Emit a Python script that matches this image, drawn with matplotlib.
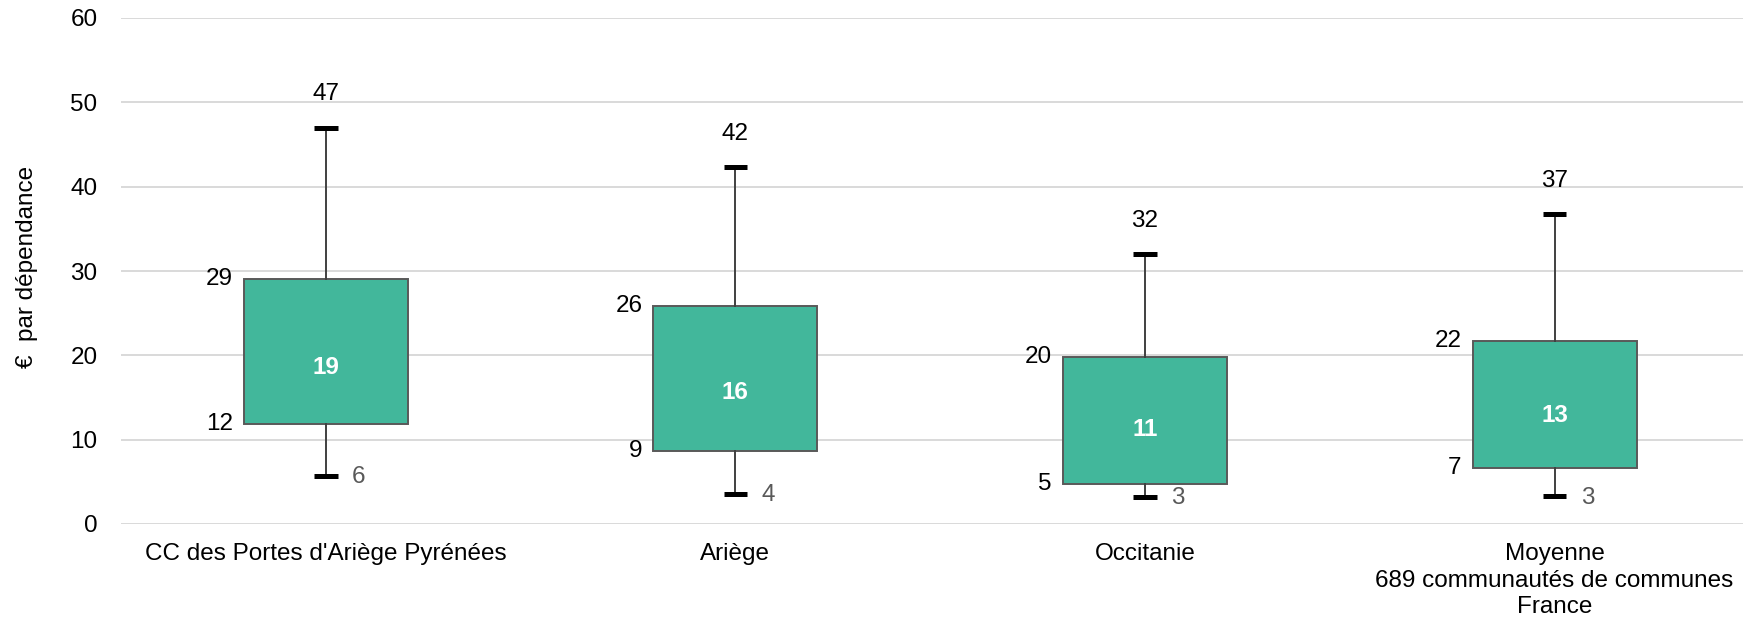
import matplotlib.pyplot as plt

plt.rcParams['font.family'] = ['Liberation Sans', 'DejaVu Sans']

# %% data
categories = ["CC des Portes d'Ariège Pyrénées", "Ariège", "Occitanie",
              "Moyenne\n689 communautés de communes\nFrance"]
q1_vals = [11.8, 8.7, 4.7, 6.6]
med_vals = [18.6, 15.6, 11.2, 12.9]
q3_vals = [29.0, 25.8, 19.8, 21.7]
min_vals = [5.7, 3.6, 3.2, 3.3]
max_vals = [47.0, 42.3, 32.0, 36.7]
q1_labels = ["12", "9", "5", "7"]
med_labels = ["19", "16", "11", "13"]
q3_labels = ["29", "26", "20", "22"]
min_labels = ["6", "4", "3", "3"]
max_labels = ["47", "42", "32", "37"]
y_ticks = [0, 10, 20, 30, 40, 50, 60]

box_color = "#42B79B"
fs = 17.5

fig = plt.figure(figsize=(17.43, 6.19), dpi=100)
ax = fig.add_axes([121 / 1743, 1 - 524 / 619, 1622 / 1743, 506 / 619])

stats = []
for i in range(len(categories)):
    stats.append({"med": med_vals[i], "q1": q1_vals[i], "q3": q3_vals[i],
                  "whislo": min_vals[i], "whishi": max_vals[i],
                  "label": categories[i]})

positions = list(range(len(categories)))
bw = 0.40
ax.bxp(stats, positions=positions, widths=bw, capwidths=0.058,
       showfliers=False, patch_artist=True,
       boxprops=dict(facecolor=box_color, edgecolor="#595959", linewidth=1.4),
       whiskerprops=dict(color="#404040", linewidth=1.4),
       capprops=dict(color="black", linewidth=3.6, solid_capstyle="butt"),
       medianprops=dict(linewidth=0))

for i, p in enumerate(positions):
    ax.annotate(max_labels[i], (p, max_vals[i]), xytext=(0, 24),
                textcoords="offset points", ha="center", va="center", fontsize=fs)
    ax.annotate(q3_labels[i], (p - bw / 2, q3_vals[i]), xytext=(-8, 0),
                textcoords="offset points", ha="right", va="center", fontsize=fs)
    ax.annotate(q1_labels[i], (p - bw / 2, q1_vals[i]), xytext=(-8, 0),
                textcoords="offset points", ha="right", va="center", fontsize=fs)
    ax.annotate(min_labels[i], (p, min_vals[i]), xytext=(19, -1),
                textcoords="offset points", ha="left", va="center", fontsize=fs,
                color="#595959")
    ax.text(p, med_vals[i], med_labels[i], ha="center", va="center",
            fontsize=fs, fontweight="bold", color="white")

ax.set_xlim(-0.5, 3.46)
ax.set_ylim(0, 60)
ax.set_yticks(y_ticks)
ax.set_xticks(positions)
ax.set_xticklabels(categories, fontsize=fs, linespacing=1.25)
ax.tick_params(axis="y", length=0, pad=17, labelsize=fs)
ax.tick_params(axis="x", length=0, pad=14)
ax.yaxis.grid(True, color="#D9D9D9", linewidth=1.4)
ax.set_axisbelow(True)
for s in ax.spines.values():
    s.set_visible(False)

ax.set_ylabel("€  par dépendance", fontsize=fs)
ax.yaxis.set_label_coords(-0.0512, 0.508)

fig.savefig("out.png", dpi=100)
